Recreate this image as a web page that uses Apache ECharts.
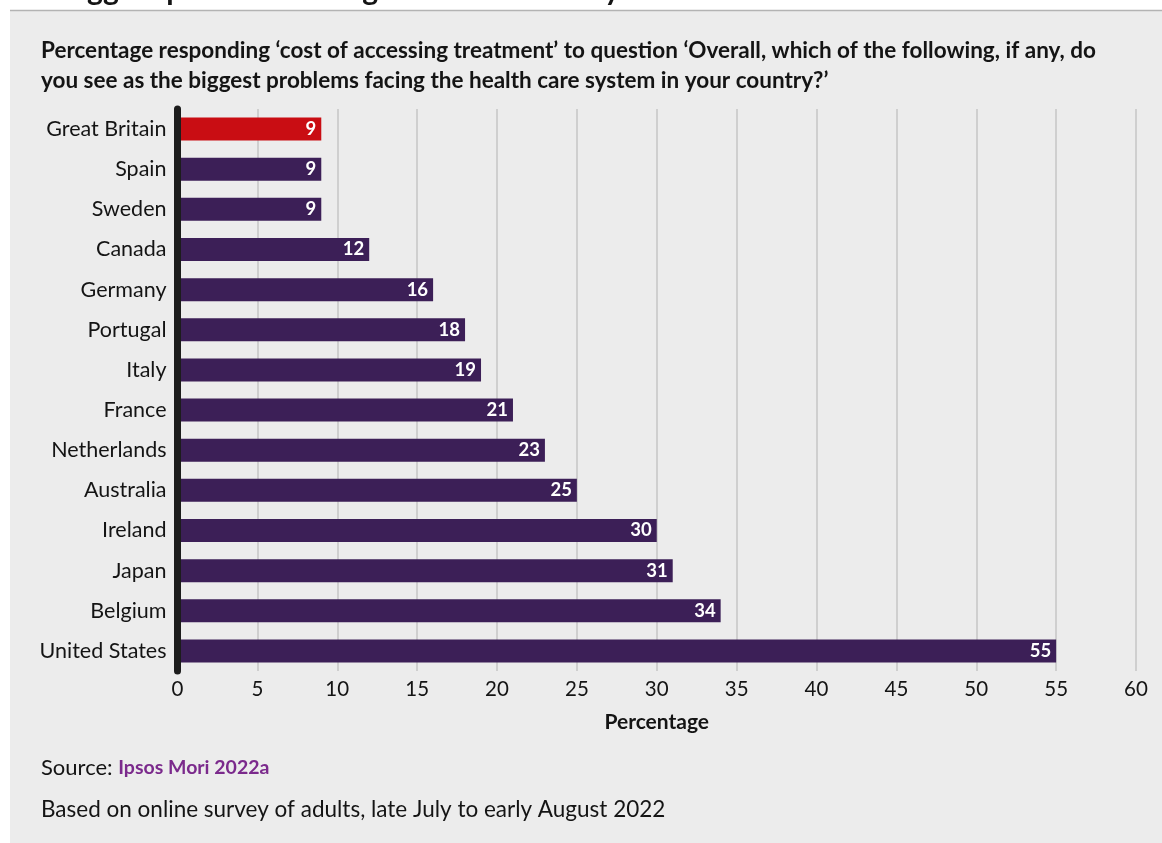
<!DOCTYPE html>
<html>
<head>
<meta charset="utf-8">
<style>
  html, body { margin: 0; padding: 0; background: #ffffff; }
  #chart { width: 1162px; height: 843px; }
</style>
<script src="https://cdn.jsdelivr.net/npm/echarts@6/dist/echarts.min.js"></script>
</head>
<body>
<div id="chart"></div>
<script>
// Countries, top to bottom
const countries = [
  'Great Britain', 'Spain', 'Sweden', 'Canada', 'Germany', 'Portugal', 'Italy',
  'France', 'Netherlands', 'Australia', 'Ireland', 'Japan', 'Belgium', 'United States'
];
// Share responding 'cost of accessing treatment' (%)
const percentages = [9, 9, 9, 12, 16, 18, 19, 21, 23, 25, 30, 31, 34, 55];
// Country drawn in the highlight colour
const highlighted = 'Great Britain';

const FONT = 'Lato, "Noto Sans", sans-serif';
const PURPLE = '#3c1f57';
const RED = '#c90d13';
const INK = '#141414';

const chart = echarts.init(document.getElementById('chart'), null, { renderer: 'canvas' });

const barData = percentages.map((v, i) => ({
  value: v,
  itemStyle: { color: countries[i] === highlighted ? RED : PURPLE }
}));

chart.setOption({
  backgroundColor: '#ffffff',
  animation: false,
  textStyle: { fontFamily: FONT },
  graphic: [
    { type: 'rect', z: -10, shape: { x: 10, y: 10, width: 1152, height: 833 }, style: { fill: '#ececec' } },
    { type: 'line', z: -9, shape: { x1: 10, y1: 10.5, x2: 1162, y2: 10.5 }, style: { stroke: '#b3b3b3', lineWidth: 1.5 } }
  ],
  title: [
    {
      text: 'Biggest problems facing the health care system',
      left: 60, top: -28, padding: 0,
      textStyle: { fontFamily: FONT, fontSize: 30, fontWeight: 'bold', color: INK, lineHeight: 36 }
    },
    {
      text: 'Percentage responding \u2018cost of accessing treatment\u2019 to question \u2018Overall, which of the following, if any, do\nyou see as the biggest problems facing the health care system in your country?\u2019',
      left: 41, top: 36, padding: 0,
      textStyle: { fontFamily: FONT, fontSize: 22.5, fontWeight: 'bold', color: INK, lineHeight: 30 }
    },
    {
      text: '{a|Source: }{b|Ipsos Mori 2022a}',
      left: 41, top: 755, padding: 0,
      textStyle: {
        rich: {
          a: { fontFamily: FONT, fontSize: 22, fontWeight: 'normal', color: INK, lineHeight: 26 },
          b: { fontFamily: FONT, fontSize: 19.5, fontWeight: 'bold', color: '#7b2a8c', lineHeight: 26 }
        }
      }
    },
    {
      text: 'Based on online survey of adults, late July to early August 2022',
      left: 41, top: 797, padding: 0,
      textStyle: { fontFamily: FONT, fontSize: 22.5, fontWeight: 'normal', color: INK, lineHeight: 26 }
    }
  ],
  grid: { left: 177.5, right: 26, top: 109, bottom: 172, containLabel: false },
  xAxis: {
    type: 'value',
    min: 0, max: 60, interval: 5,
    axisLine: { show: false },
    axisTick: { show: false },
    axisLabel: { fontFamily: FONT, fontSize: 20.5, color: INK, margin: 8 },
    splitLine: { show: true, lineStyle: { color: '#cfcfcf', width: 2 } },
    name: 'Percentage',
    nameLocation: 'middle',
    nameGap: 41,
    nameTextStyle: { fontFamily: FONT, fontSize: 21, fontWeight: 'bold', color: INK }
  },
  yAxis: {
    type: 'category',
    data: countries,
    inverse: true,
    z: 5,
    axisLine: { show: true, lineStyle: { color: '#1c1c1c', width: 7 } },
    axisTick: { show: false },
    axisLabel: { fontFamily: FONT, fontSize: 21.5, color: INK, margin: 11 },
    splitLine: { show: false }
  },
  series: [{
    type: 'bar',
    data: barData,
    barWidth: 23,
    label: {
      show: true,
      position: 'insideRight',
      distance: 5,
      color: '#ffffff',
      fontFamily: FONT,
      fontSize: 18.5,
      fontWeight: 'bold'
    }
  }]
});
</script>
</body>
</html>
